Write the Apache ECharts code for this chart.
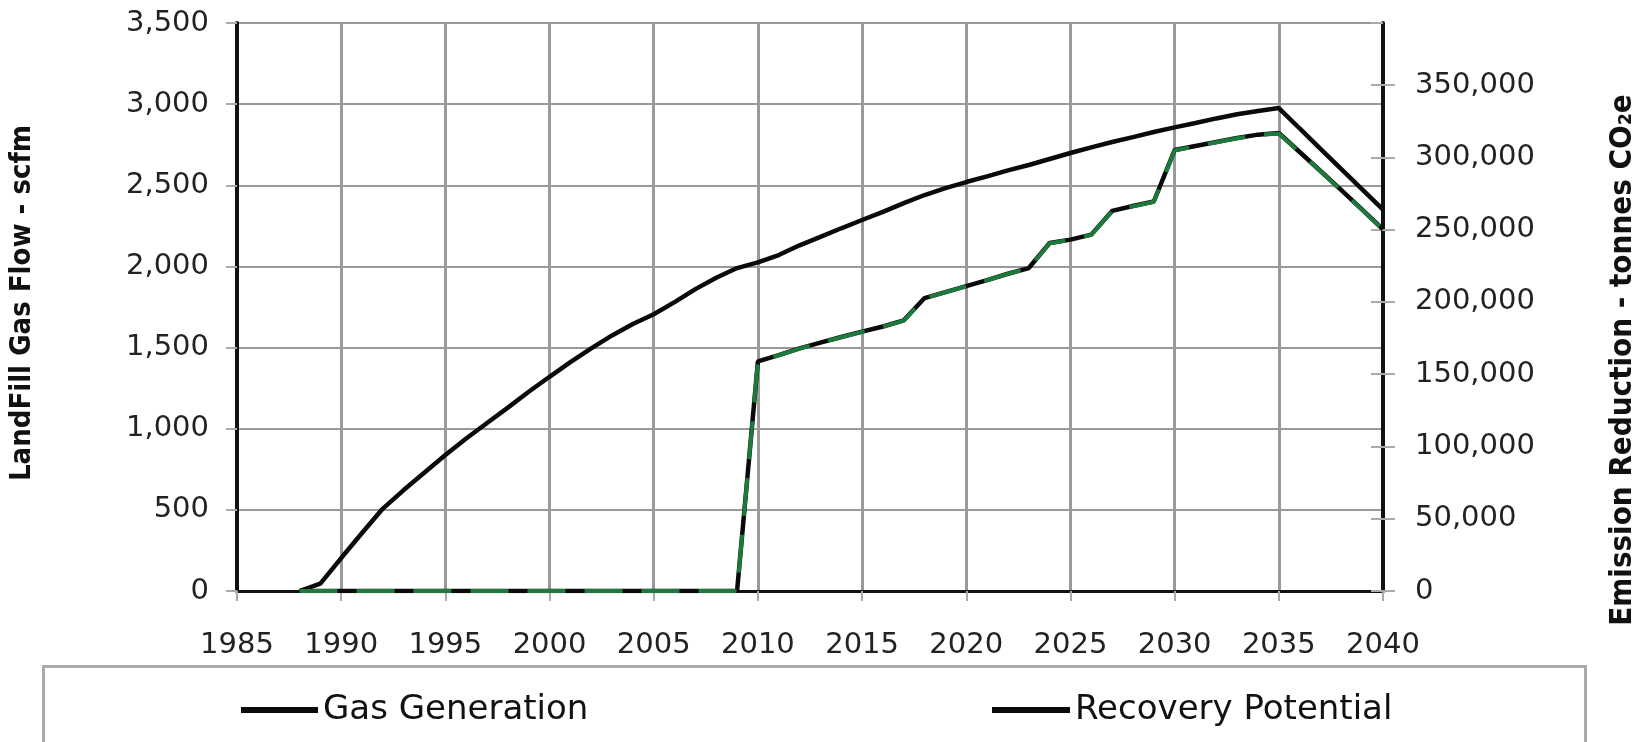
<!DOCTYPE html>
<html>
<head>
<meta charset="utf-8">
<script src="https://cdn.jsdelivr.net/npm/echarts@6/dist/echarts.min.js"></script>
<style>
html,body{margin:0;padding:0;background:#fff;}
#chart{width:1646px;height:742px;}
</style>
</head>
<body>
<div id="chart"></div>
<script>
// ---- data ----
const years = [1988,1989,1990,1991,1992,1993,1994,1995,1996,1997,1998,1999,2000,2001,2002,2003,2004,2005,2006,2007,2008,2009,2010,2011,2012,2013,2014,2015,2016,2017,2018,2019,2020,2021,2022,2023,2024,2025,2026,2027,2028,2029,2030,2031,2032,2033,2034,2035,2036,2037,2038,2039,2040];
const gasGeneration = [0,45,203,357,508,622,730,838,940,1035,1130,1228,1320,1410,1495,1575,1645,1705,1780,1860,1930,1990,2025,2070,2130,2182,2235,2286,2336,2390,2440,2483,2520,2555,2592,2625,2662,2699,2734,2767,2797,2828,2857,2884,2912,2938,2958,2976,2850,2725,2600,2475,2350];
const recoveryPotential = [0,0,0,0,0,0,0,0,0,0,0,0,0,0,0,0,0,0,0,0,0,0,1415,1454,1495,1530,1565,1598,1630,1668,1805,1842,1879,1916,1955,1990,2144,2165,2196,2342,2372,2400,2717,2742,2767,2791,2812,2822,2705,2588,2470,2350,2228];
const emissionReduction = [0,0,0,0,0,0,0,0,0,0,0,0,0,0,0,0,0,0,0,0,0,0,158800,163100,167700,171700,175600,179300,182900,187100,202500,206700,210800,215000,219400,223300,240600,242900,246400,262800,266100,269300,304800,307700,310500,313200,315500,316600,303500,290400,277100,263700,250000];
const xTicks = {min: 1985, max: 2040, step: 5};
const leftTicks = {min: 0, max: 3500, step: 500};
const rightTicks = {min: 0, max: 393000, step: 50000};
const leftTitle = 'LandFill Gas Flow - scfm';
const rightTitle = 'Emission Reduction - tonnes CO₂e';
const legendNames = ['Gas Generation', 'Recovery Potential'];

const pairs = (xs, ys) => xs.map((x, i) => [x, ys[i]]);
const fmt = v => Math.round(v).toLocaleString('en-US');
const labelFont = {fontFamily: 'DejaVu Sans', fontSize: 29, color: '#222'};
const titleFamily = '"DejaVu Sans Condensed","Liberation Sans",sans-serif';

const chart = echarts.init(document.getElementById('chart'), null, {renderer: 'canvas'});
chart.setOption({
  backgroundColor: '#fff',
  animation: false,
  grid: {left: 228, right: 248, top: 23, bottom: 151, show: true, borderColor: '#444', borderWidth: 2},
  xAxis: {
    type: 'value', min: xTicks.min, max: xTicks.max, interval: xTicks.step,
    axisLine: {show: true, onZero: false, lineStyle: {color: '#111', width: 3}},
    axisTick: {show: true, length: 10, lineStyle: {color: '#aaa', width: 2}},
    axisLabel: Object.assign({margin: 40, formatter: v => String(v)}, labelFont),
    splitLine: {show: true, lineStyle: {color: '#9a9a9a', width: 3}}
  },
  yAxis: [
    {
      type: 'value', position: 'left', min: leftTicks.min, max: leftTicks.max, interval: leftTicks.step,
      name: leftTitle, nameLocation: 'middle', nameRotate: 90, nameGap: 200,
      nameTextStyle: {fontFamily: titleFamily, fontWeight: 'bold', fontSize: 29, color: '#111', padding: [0, 0, 0, 8]},
      axisLine: {show: true, lineStyle: {color: '#111', width: 4}},
      axisTick: {show: true, length: 11, lineStyle: {color: '#aaa', width: 2}},
      axisLabel: Object.assign({margin: 28, formatter: fmt}, labelFont),
      splitLine: {show: true, lineStyle: {color: '#999', width: 2}}
    },
    {
      type: 'value', position: 'right', min: rightTicks.min, max: rightTicks.max, interval: rightTicks.step,
      name: rightTitle, nameLocation: 'middle', nameRotate: 90, nameGap: 224,
      nameTextStyle: {fontFamily: titleFamily, fontWeight: 'bold', fontSize: 31, color: '#111', padding: [0, 106, 0, 0]},
      axisLine: {show: true, lineStyle: {color: '#111', width: 4}},
      axisTick: {show: true, length: 12, lineStyle: {color: '#aaa', width: 2}},
      axisLabel: Object.assign({margin: 32, showMaxLabel: false, formatter: fmt}, labelFont),
      splitLine: {show: false}
    },
    {
      type: 'value', position: 'right', min: rightTicks.min, max: rightTicks.max, interval: rightTicks.step,
      axisLine: {show: false},
      axisTick: {show: true, inside: true, length: 12, lineStyle: {color: '#aaa', width: 2}},
      axisLabel: {show: false},
      splitLine: {show: false}
    }
  ],
  legend: [
    {
      data: [legendNames[0]], left: 236, top: 688, icon: 'rect', itemWidth: 77, itemHeight: 6, itemGap: 0,
      textStyle: {fontFamily: 'DejaVu Sans', fontSize: 34, color: '#111'}
    },
    {
      data: [legendNames[1]], left: 987, top: 688, icon: 'rect', itemWidth: 78, itemHeight: 6, itemGap: 0,
      textStyle: {fontFamily: 'DejaVu Sans', fontSize: 34, color: '#111'}
    }
  ],
  graphic: [
    {type: 'rect', left: 41, top: 664, shape: {width: 1542, height: 120}, style: {fill: 'none', stroke: '#aaa', lineWidth: 3}, z: -1}
  ],
  series: [
    {
      name: legendNames[0], type: 'line', yAxisIndex: 0, data: pairs(years, gasGeneration),
      showSymbol: false, symbol: 'none', lineStyle: {color: '#0a0a0a', width: 4.5}, itemStyle: {color: '#0a0a0a'}, z: 3
    },
    {
      name: legendNames[1], type: 'line', yAxisIndex: 0, data: pairs(years, recoveryPotential),
      showSymbol: false, symbol: 'none', lineStyle: {color: '#0a0a0a', width: 4.5}, itemStyle: {color: '#0a0a0a'}, z: 3
    },
    {
      name: 'Emission Reduction', type: 'line', yAxisIndex: 1, data: pairs(years, emissionReduction),
      showSymbol: false, symbol: 'none', lineStyle: {color: '#1d7a3d', width: 4, type: [38, 19]}, z: 4
    }
  ]
});
</script>
</body>
</html>
